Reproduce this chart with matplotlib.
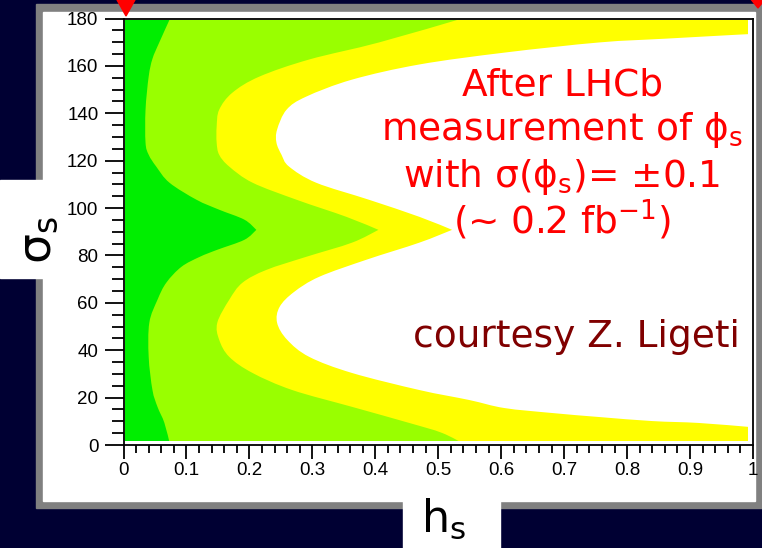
import numpy as np
import matplotlib.pyplot as plt
from matplotlib.patches import Rectangle, Polygon, PathPatch
from matplotlib.path import Path

# contour boundaries, given as h_s at each sigma_s (degrees)
# dark green -> light green
sig_b1 = [180, 170, 163, 155.5, 141.5, 127.6, 122.5, 117.5, 110.7, 103.5, 99.3, 95.1,
          90.8, 86.6, 82.4, 79.4, 75.2, 68.5, 61.3, 51.6, 37.2, 23.2, 16.1, 9.3, 0]
h_b1 = [0.074, 0.057, 0.046, 0.040, 0.035, 0.035, 0.040, 0.052, 0.073, 0.116, 0.152, 0.192,
        0.211, 0.192, 0.149, 0.121, 0.092, 0.068, 0.054, 0.041, 0.040, 0.046, 0.054, 0.065, 0.074]

# light green -> yellow
sig_b2 = [180, 169.9, 162.7, 155.5, 148.7, 141.5, 134.4, 127.6, 122.5, 117.5, 110.7, 103.5,
          96.3, 90.8, 85.4, 79.4, 73.9, 68.5, 61.3, 51.6, 44.4, 37.2, 30.4, 23.2, 16.1, 9.3, 5.1, 0]
h_b2 = [0.538, 0.406, 0.295, 0.216, 0.173, 0.152, 0.148, 0.148, 0.152, 0.168, 0.205, 0.275,
        0.354, 0.405, 0.363, 0.290, 0.227, 0.189, 0.168, 0.149, 0.152, 0.168, 0.205, 0.268,
        0.363, 0.454, 0.506, 0.544]

# yellow -> white (white for h_s above this)
sig_b3 = [173.4, 173.2, 171.5, 169.9, 165.6, 160.6, 154.2, 147.0, 141.5, 133.1, 127.6, 122.5,
          117.5, 110.7, 103.5, 96.3, 90.8, 85.4, 78.2, 71.0, 64.6, 58.3, 51.6, 44.4, 37.2,
          30.4, 23.2, 19.0, 15.6, 13.5, 11.8, 10.1, 9.3, 7.6]
h_b3 = [0.995, 0.978, 0.862, 0.756, 0.605, 0.470, 0.363, 0.290, 0.259, 0.244, 0.243, 0.251,
        0.263, 0.306, 0.390, 0.470, 0.522, 0.470, 0.386, 0.311, 0.271, 0.248, 0.244, 0.260,
        0.295, 0.363, 0.470, 0.549, 0.605, 0.681, 0.756, 0.840, 0.914, 0.995]

x_ticks = np.arange(0, 1.01, 0.1)
x_labels = ['0', '0.1', '0.2', '0.3', '0.4', '0.5', '0.6', '0.7', '0.8', '0.9', '1']
y_ticks = np.arange(0, 181, 20)

W, H = 762, 548


def fx(px):
    return px / W


def fy(py):
    return 1 - py / H


def curve(pts):
    # smooth bezier run through pts (catmull-rom style handles)
    verts, codes = [], []
    n = len(pts)
    for i in range(n - 1):
        p0 = np.array(pts[max(i - 1, 0)])
        p1 = np.array(pts[i])
        p2 = np.array(pts[i + 1])
        p3 = np.array(pts[min(i + 2, n - 1)])
        c1 = p1 + (p2 - p0) / 6
        c2 = p2 - (p3 - p1) / 6
        verts += [tuple(c1), tuple(c2), tuple(p2)]
        codes += [Path.CURVE4] * 3
    return verts, codes


def region(h, s, start, end):
    # closed path: start corner(s) -> boundary (split at the tip) -> end corner(s)
    pts = list(zip(h, s))
    tip = int(np.argmin(np.abs(np.array(s) - 90.8)))
    verts = list(start) + [pts[0]]
    codes = [Path.MOVETO] + [Path.LINETO] * len(start)
    for run in (pts[:tip + 1], pts[tip:]):
        v, c = curve(run)
        verts += v
        codes += c
    for p in end:
        verts.append(p)
        codes.append(Path.LINETO)
    verts.append(verts[0])
    codes.append(Path.CLOSEPOLY)
    return Path(verts, codes)


fig = plt.figure(figsize=(W / 100, H / 100), dpi=100)
fig.patch.set_facecolor('#000033')

# slide panel
fig.add_artist(Rectangle((fx(36), fy(508)), fx(762 - 36), (508 - 4) / H,
                         transform=fig.transFigure, color='#808080', zorder=0))
fig.add_artist(Rectangle((fx(43), fy(501)), fx(755 - 43), (501 - 12) / H,
                         transform=fig.transFigure, color='white', zorder=0))
fig.add_artist(Rectangle((0, fy(278)), fx(43), (278 - 180) / H,
                         transform=fig.transFigure, color='white', zorder=0))
fig.add_artist(Rectangle((fx(403), 0), fx(500 - 403), (548 - 501) / H,
                         transform=fig.transFigure, color='white', zorder=0))

ax = fig.add_axes([fx(123.5), fy(445), fx(753 - 123.5), (445 - 18.5) / H])
ax.set_facecolor('white')
ax.set_xlim(0, 1)
ax.set_ylim(0, 180)

clip = Rectangle((0.003, 1.7), 0.989, 177.5, transform=ax.transData)

layers = [
    (Path([(0, 0), (1, 0), (1, 180), (0, 180), (0, 0)]), '#ffff00'),
    (region(h_b3, sig_b3, [(1.0, sig_b3[0])], [(1.0, sig_b3[-1])]), 'white'),
    (region(h_b2, sig_b2, [(0, 180)], [(0, 0)]), '#99ff00'),
    (region(h_b1, sig_b1, [(0, 180)], [(0, 0)]), '#00ee00'),
]
for path, col in layers:
    patch = PathPatch(path, facecolor=col, edgecolor='none')
    ax.add_patch(patch)
    patch.set_clip_path(clip)

tick_font = {'family': 'Liberation Sans', 'size': 13.5}
ax.set_xticks(x_ticks)
ax.set_xticklabels(x_labels, fontdict=tick_font)
ax.set_xticks(np.arange(0, 1.001, 0.02), minor=True)
ax.set_yticks(y_ticks)
ax.set_yticklabels([str(v) for v in y_ticks], fontdict=tick_font)
ax.set_yticks(np.arange(0, 181, 5), minor=True)
ax.tick_params(axis='x', which='major', length=10, width=1.3, direction='out', pad=2)
ax.tick_params(axis='x', which='minor', length=6, width=1.3, direction='out')
ax.tick_params(axis='y', which='major', length=14, width=1.3, direction='out', pad=4)
ax.tick_params(axis='y', which='minor', length=8.5, width=1.3, direction='out')
for s in ax.spines.values():
    s.set_linewidth(1.3)
    s.set_color('black')

# axis titles
fig.text(fx(38), fy(240), r'$\mathregular{\sigma_s}$', rotation=90, fontsize=34,
         ha='center', va='center')
fig.text(fx(421), fy(532), r'$\mathregular{h_s}$', fontsize=32, ha='left', va='baseline')

# annotations
red_lines = [
    ('After LHCb', 95),
    (r'measurement of $\mathregular{\phi_s}$', 140),
    (r'with $\mathregular{\sigma(\phi_s)}$= ±0.1', 187),
    (r'(~ 0.2 $\mathregular{fb^{-1}}$)', 233),
]
for txt, yb in red_lines:
    fig.text(fx(562), fy(yb), txt, color='#ff0000', fontsize=27, ha='center', va='baseline')
fig.text(fx(576), fy(347), 'courtesy Z. Ligeti', color='#800000', fontsize=27,
         ha='center', va='baseline')

# slide markers
fig.add_artist(Polygon([(fx(116), fy(-2)), (fx(136), fy(-2)), (fx(126), fy(16))],
                       closed=True, transform=fig.transFigure, color='#ff0000'))
fig.add_artist(Polygon([(fx(750), fy(-2)), (fx(766), fy(-2)), (fx(758), fy(8))],
                       closed=True, transform=fig.transFigure, color='#ff0000'))

fig.savefig('out.png', dpi=100, facecolor=fig.get_facecolor())
